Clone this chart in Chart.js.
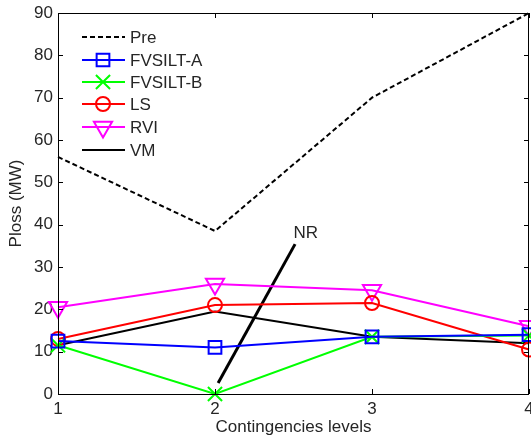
<!DOCTYPE html>
<html>
<head>
<meta charset="utf-8">
<script src="https://cdn.jsdelivr.net/npm/chart.js@4/dist/chart.umd.min.js"></script>
<style>
  html, body { margin: 0; padding: 0; background: #fff; }
  #wrap { width: 531px; height: 441px; }
</style>
</head>
<body>
<div id="wrap"><canvas id="lossChart" width="531" height="441"></canvas></div>
<script>
const levels = [1, 2, 3, 4];
const pre = [56, 38.5, 70, 90];
const fvsiltA = [12.5, 11, 13.5, 14];
const fvsiltB = [11.5, 0, 13.5, 13.8];
const ls = [13, 21, 21.5, 10.5];
const rvi = [20.5, 26, 24.5, 16];
const vm = [11.5, 19.5, 13.5, 12];
const nrX = [2.02, 2.51];
const nrY = [2.6, 35.4];
const nrText = { x: 2.5, y: 38, label: 'NR' };

const textColor = '#262626';
const fontFamily = '"Liberation Sans", Arial, sans-serif';
const fontSize = 17;

function pts(xs, ys) {
    return xs.map((x, i) => ({ x: x, y: ys[i] }));
}

function series(label, values, color, style, extra) {
    return Object.assign({
        label: label,
        data: pts(levels, values),
        borderColor: color,
        backgroundColor: 'rgba(0,0,0,0)',
        borderWidth: 2,
        pointStyle: style,
        pointRadius: style ? 7 : 0,
        pointBorderWidth: 2,
        pointBorderColor: color,
        pointBackgroundColor: 'rgba(0,0,0,0)',
        tension: 0,
        clip: false
    }, extra || {});
}

const datasets = [
    series('Pre', pre, '#000000', false, { borderDash: [5, 3] }),
    series('FVSILT-A', fvsiltA, '#0000ff', 'rect', { pointRadius: 9 }),
    series('FVSILT-B', fvsiltB, '#00ff00', 'crossRot', { pointRadius: 10 }),
    series('LS', ls, '#ff0000', 'circle'),
    series('RVI', rvi, '#ff00ff', 'triangle', { pointRotation: 180, pointRadius: 10.5 }),
    series('VM', vm, '#000000', false),
    {
        label: 'NR',
        data: pts(nrX, nrY),
        borderColor: '#000000',
        borderWidth: 3,
        pointRadius: 0,
        clip: false
    }
];

// MATLAB-like box with inward ticks, legend inside, NR label
const boxPlugin = {
    id: 'boxPlugin',
    afterDraw(chart) {
        const ctx = chart.ctx;
        const a = chart.chartArea;
        const xs = chart.scales.x;
        const ys = chart.scales.y;
        ctx.save();
        ctx.strokeStyle = '#000';
        ctx.lineWidth = 1;
        ctx.strokeRect(a.left + 0.5, a.top + 0.5, a.right - a.left - 1, a.bottom - a.top);
        ctx.beginPath();
        ys.ticks.forEach(t => {
            const y = Math.round(ys.getPixelForValue(t.value)) + 0.5;
            ctx.moveTo(a.left, y); ctx.lineTo(a.left + 5, y);
            ctx.moveTo(a.right, y); ctx.lineTo(a.right - 5, y);
        });
        xs.ticks.forEach(t => {
            const x = Math.round(xs.getPixelForValue(t.value)) + 0.5;
            ctx.moveTo(x, a.bottom); ctx.lineTo(x, a.bottom - 5);
            ctx.moveTo(x, a.top); ctx.lineTo(x, a.top + 5);
        });
        ctx.stroke();

        // NR label
        ctx.fillStyle = textColor;
        ctx.font = fontSize + 'px ' + fontFamily;
        ctx.textAlign = 'left';
        ctx.textBaseline = 'middle';
        ctx.fillText(nrText.label, xs.getPixelForValue(nrText.x), ys.getPixelForValue(nrText.y));

        // legend
        const rows = [37, 60, 82, 104, 127, 150];
        chart.data.datasets.slice(0, 6).forEach((ds, i) => {
            const y = rows[i];
            ctx.save();
            ctx.strokeStyle = ds.borderColor;
            ctx.lineWidth = 2;
            ctx.setLineDash(ds.borderDash || []);
            ctx.beginPath();
            ctx.moveTo(82, y); ctx.lineTo(125, y);
            ctx.stroke();
            ctx.restore();
            if (ds.pointStyle) {
                ctx.save();
                ctx.fillStyle = 'rgba(0,0,0,0)';
                ctx.strokeStyle = ds.borderColor;
                ctx.lineWidth = 2;
                Chart.helpers.drawPoint(ctx, {
                    pointStyle: ds.pointStyle,
                    radius: ds.pointRadius,
                    rotation: ds.pointRotation || 0,
                    borderWidth: 2
                }, 103, y);
                ctx.restore();
            }
            ctx.fillStyle = textColor;
            ctx.font = fontSize + 'px ' + fontFamily;
            ctx.textAlign = 'left';
            ctx.textBaseline = 'middle';
            ctx.fillText(ds.label, 130, y + 1);
        });
        ctx.restore();
    }
};

new Chart(document.getElementById('lossChart'), {
    type: 'line',
    data: { datasets: datasets },
    plugins: [boxPlugin],
    options: {
        responsive: false,
        animation: false,
        layout: { autoPadding: false, padding: { top: 13, right: 2, left: 0, bottom: 0 } },
        plugins: {
            legend: { display: false },
            tooltip: { enabled: false }
        },
        scales: {
            x: {
                type: 'linear',
                min: 1,
                max: 4,
                ticks: { stepSize: 1, color: textColor, font: { size: fontSize, family: fontFamily }, padding: 5 },
                grid: { display: false, drawTicks: false },
                border: { display: false },
                title: { display: true, text: 'Contingencies levels', color: textColor, font: { size: fontSize, family: fontFamily }, padding: { top: 0, bottom: 3 } },
                afterFit(scale) {
                    scale.height = 47;
                    scale.paddingLeft = 0;
                    scale.paddingRight = 0;
                }
            },
            y: {
                min: 0,
                max: 90,
                ticks: { stepSize: 10, color: textColor, font: { size: fontSize, family: fontFamily }, padding: 5 },
                grid: { display: false, drawTicks: false },
                border: { display: false },
                title: { display: true, text: 'Ploss (MW)', color: textColor, font: { size: fontSize, family: fontFamily }, padding: { top: 6, bottom: 0 } },
                afterFit(scale) {
                    scale.width = 58;
                    scale.paddingTop = 0;
                    scale.paddingBottom = 0;
                }
            }
        }
    }
});
</script>
</body>
</html>
